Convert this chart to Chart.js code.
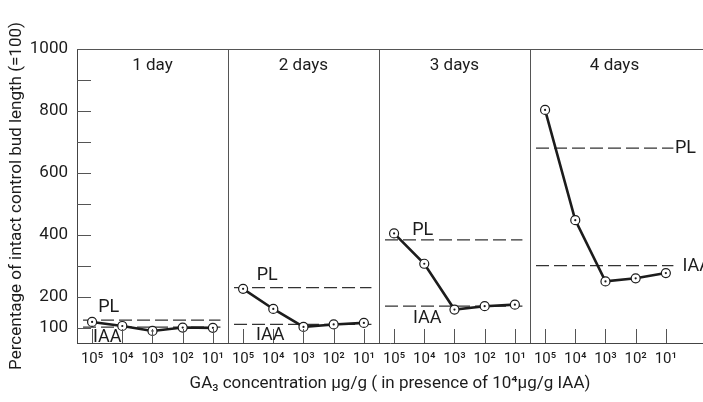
<!DOCTYPE html>
<html>
<head>
<meta charset="utf-8">
<script src="https://cdn.jsdelivr.net/npm/chart.js@4"></script>
<style>
  html, body { margin: 0; padding: 0; background: #fff; overflow: hidden; }
  canvas { display: block; }
</style>
</head>
<body>
<canvas id="growth-chart" width="703" height="402"></canvas>
<script>
// GA3 concentrations (x categories, repeated in every panel)
var categories = ['10\u2075', '10\u2074', '10\u00B3', '10\u00B2', '10\u00B9'];
var panels = ['1 day', '2 days', '3 days', '4 days'];

// bud length, % of intact control
var day1 = [118, 105, 89, 100, 99];
var day2 = [225, 160, 102, 110, 115];
var day3 = [404, 306, 158, 169, 174];
var day4 = [803, 447, 249, 259, 276];
var series = [day1, day2, day3, day4];

// reference levels per panel
var plLevels = [124, 229, 383, 680];
var iaaLevels = [101, 110, 169, 300];

var yTicks = [100, 200, 300, 400, 500, 600, 700, 800, 900, 1000];
var yLabelled = [100, 200, 400, 600, 800, 1000];

var FONT = 'Roboto, "Liberation Sans", sans-serif';
var INK = '#1c1c1c';

var datasets = [];
series.forEach(function (vals, p) {
    var pts = vals.map(function (v, i) { return { x: p * 5 + i + 0.5, y: v }; });
    datasets.push({
        data: pts, order: 2,
        borderColor: INK, borderWidth: 2.6,
        pointRadius: 4.5, pointBackgroundColor: '#fff',
        pointBorderColor: INK, pointBorderWidth: 1.2
    });
    datasets.push({
        data: pts, order: 1, showLine: false,
        pointRadius: 1.1, pointBackgroundColor: INK, pointBorderWidth: 0
    });
});
[plLevels, iaaLevels].forEach(function (levels) {
    levels.forEach(function (v, p) {
        datasets.push({
            data: [{ x: p * 5 + 0.2, y: v }, { x: p * 5 + 4.75, y: v }],
            order: 3, borderColor: '#333', borderWidth: 1.3,
            borderDash: [13, 5], pointRadius: 0
        });
    });
});

// frame, inward ticks, panel titles, PL / IAA labels
var decor = {
    id: 'decor',
    afterDraw: function (chart) {
        var ctx = chart.ctx, xs = chart.scales.x, ys = chart.scales.y, a = chart.chartArea;
        ctx.save();
        ctx.strokeStyle = '#555';
        ctx.lineWidth = 1;
        ctx.beginPath();
        ctx.moveTo(a.left, a.top + 0.5); ctx.lineTo(a.right, a.top + 0.5);
        [5, 10, 15].forEach(function (v) {
            var x = Math.round(xs.getPixelForValue(v)) + 0.5;
            ctx.moveTo(x, a.top); ctx.lineTo(x, a.bottom);
        });
        for (var k = 0; k < 20; k++) {
            var tx = Math.round(xs.getPixelForValue(k + 0.5)) + 0.5;
            ctx.moveTo(tx, a.bottom); ctx.lineTo(tx, a.bottom - 14);
        }
        yTicks.forEach(function (v) {
            if (v >= 1000) return;
            var ty = Math.round(ys.getPixelForValue(v)) + 0.5;
            ctx.moveTo(a.left, ty); ctx.lineTo(a.left + 14, ty);
        });
        ctx.stroke();

        ctx.fillStyle = INK;
        ctx.font = '17px ' + FONT;
        ctx.textAlign = 'center';
        ctx.textBaseline = 'middle';
        panels.forEach(function (t, p) {
            var cx = xs.getPixelForValue(p < 3 ? p * 5 + 2.5 : 17.8);
            ctx.fillText(t, cx, a.top + 17);
        });

        ctx.font = '18px ' + FONT;
        var labels = [
            { t: 'PL', x: 1.05, v: plLevels[0], dy: -13, al: 'center' },
            { t: 'IAA', x: 1.0, v: iaaLevels[0], dy: 10, al: 'center' },
            { t: 'PL', x: 6.3, v: plLevels[1], dy: -12, al: 'center' },
            { t: 'IAA', x: 6.4, v: iaaLevels[1], dy: 11, al: 'center' },
            { t: 'PL', x: 11.45, v: plLevels[2], dy: -9, al: 'center' },
            { t: 'IAA', x: 11.6, v: iaaLevels[2], dy: 12, al: 'center' },
            { t: 'PL', x: 19.8, v: plLevels[3], dy: 0, al: 'left' },
            { t: 'IAA', x: 20.05, v: iaaLevels[3], dy: 1, al: 'left' }
        ];
        labels.forEach(function (l) {
            ctx.textAlign = l.al;
            ctx.fillText(l.t, xs.getPixelForValue(l.x), ys.getPixelForValue(l.v) + l.dy);
        });
        ctx.restore();
    }
};

new Chart(document.getElementById('growth-chart'), {
    type: 'line',
    data: { datasets: datasets },
    options: {
        responsive: false,
        animation: false,
        devicePixelRatio: 1,
        layout: { autoPadding: false, padding: { top: 49, right: 0, bottom: 0, left: 0 } },
        plugins: { legend: { display: false }, tooltip: { enabled: false } },
        scales: {
            x: {
                type: 'linear', min: 0, max: 20.73,
                grid: { display: false, drawTicks: false },
                border: { display: true, color: '#444', width: 1 },
                afterBuildTicks: function (scale) {
                    scale.ticks = [];
                    for (var k = 0; k < 20; k++) scale.ticks.push({ value: k + 0.5 });
                },
                afterFit: function (scale) {
                    scale.height = 59;
                    scale.paddingLeft = 0;
                    scale.paddingRight = 0;
                },
                ticks: {
                    autoSkip: false, maxRotation: 0, padding: 7,
                    color: INK, font: { family: FONT, size: 15 },
                    callback: function (v) { return categories[Math.round(v - 0.5) % 5]; }
                },
                title: {
                    display: true, color: INK,
                    text: 'GA\u2083 concentration \u00B5g/g ( in presence of 10\u2074\u00B5g/g IAA)',
                    font: { family: FONT, size: 17 },
                    padding: { top: 0, bottom: 8 }
                }
            },
            y: {
                min: 50, max: 1000,
                grid: { display: false, drawTicks: false },
                border: { display: true, color: '#444', width: 1 },
                afterBuildTicks: function (scale) {
                    scale.ticks = yTicks.map(function (v) { return { value: v }; });
                },
                afterFit: function (scale) { scale.width = 77; },
                ticks: {
                    padding: 9, color: INK, font: { family: FONT, size: 17 },
                    callback: function (v) { return yLabelled.indexOf(v) >= 0 ? String(v) : ''; }
                },
                title: {
                    display: true, color: INK,
                    text: 'Percentage of intact control bud length (=100)',
                    font: { family: FONT, size: 17 },
                    padding: { top: 7, bottom: 0 }
                }
            }
        }
    },
    plugins: [decor]
});
</script>
</body>
</html>
